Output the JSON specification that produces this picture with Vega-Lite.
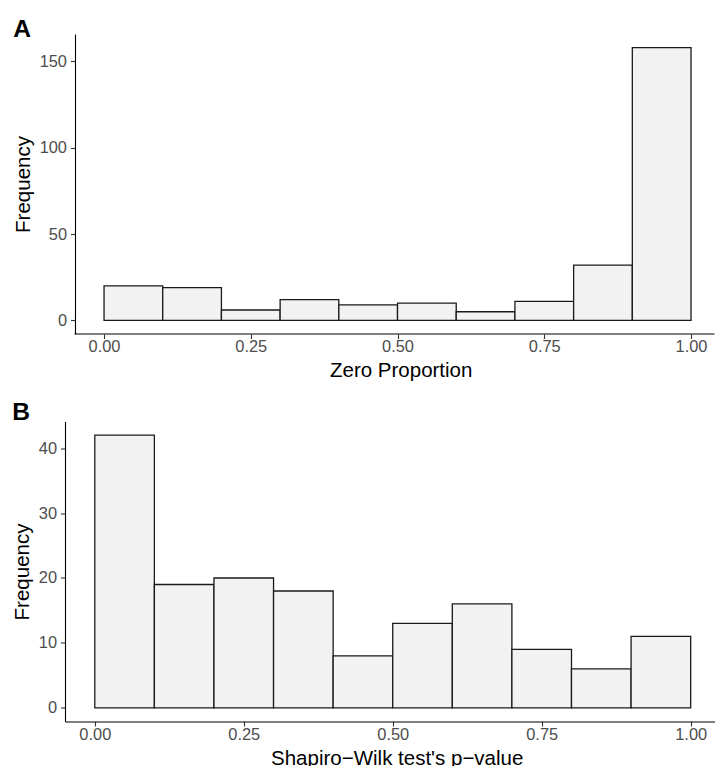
{
  "$schema": "https://vega.github.io/schema/vega-lite/v6.json",
  "background": "white",
  "padding": {"left": 12, "top": 17, "right": 0, "bottom": 0},
  "columns": 1,
  "spacing": 17.5,
  "concat": [
    {
      "width": 649.5,
      "height": 300,
      "title": {"text": "A", "anchor": "start", "frame": "bounds", "fontSize": 24.6, "fontWeight": "bold", "font": "Liberation Sans", "color": "#000000", "baseline": "alphabetic", "offset": -28},
      "layer": [
        {
          "data": {"values": [
            {"start": 0.0, "end": 0.1, "count": 20},
            {"start": 0.1, "end": 0.2, "count": 19},
            {"start": 0.2, "end": 0.3, "count": 6},
            {"start": 0.3, "end": 0.4, "count": 12},
            {"start": 0.4, "end": 0.5, "count": 9},
            {"start": 0.5, "end": 0.6, "count": 10},
            {"start": 0.6, "end": 0.7, "count": 5},
            {"start": 0.7, "end": 0.8, "count": 11},
            {"start": 0.8, "end": 0.9, "count": 32},
            {"start": 0.9, "end": 1.0, "count": 158}
          ]},
          "mark": {"type": "rect", "fill": "#F2F2F2", "stroke": "#1a1a1a", "strokeWidth": 1.3},
          "encoding": {
            "x": {"field": "start", "type": "quantitative", "scale": {"domain": [-0.0665, 1.04], "nice": false, "zero": false},
                  "axis": {"title": "Zero Proportion", "values": [0, 0.25, 0.5, 0.75, 1], "format": ".2f", "titleX": 335.7, "domain": false}},
            "x2": {"field": "end"},
            "y": {"field": "count", "type": "quantitative", "scale": {"domain": [-7.9, 165.9], "nice": false, "zero": false},
                  "axis": {"title": "Frequency", "values": [0, 50, 100, 150], "offset": -10}},
            "y2": {"datum": 0}
          }
        },
        {
          "data": {"values": [{"lo": -0.05, "hi": 1.04, "base": -7.9}]},
          "mark": {"type": "rule", "color": "#000000", "strokeWidth": 1.1},
          "encoding": {
            "x": {"field": "lo", "type": "quantitative"},
            "x2": {"field": "hi"},
            "y": {"field": "base", "type": "quantitative"}
          }
        }
      ]
    },
    {
      "width": 649.5,
      "height": 300,
      "title": {"text": "B", "anchor": "start", "frame": "bounds", "fontSize": 24.6, "fontWeight": "bold", "font": "Liberation Sans", "color": "#000000", "baseline": "alphabetic", "offset": -23},
      "data": {"values": [
        {"start": 0.0, "end": 0.1, "count": 42},
        {"start": 0.1, "end": 0.2, "count": 19},
        {"start": 0.2, "end": 0.3, "count": 20},
        {"start": 0.3, "end": 0.4, "count": 18},
        {"start": 0.4, "end": 0.5, "count": 8},
        {"start": 0.5, "end": 0.6, "count": 13},
        {"start": 0.6, "end": 0.7, "count": 16},
        {"start": 0.7, "end": 0.8, "count": 9},
        {"start": 0.8, "end": 0.9, "count": 6},
        {"start": 0.9, "end": 1.0, "count": 11}
      ]},
      "mark": {"type": "rect", "fill": "#F2F2F2", "stroke": "#1a1a1a", "strokeWidth": 1.3},
      "encoding": {
        "x": {"field": "start", "type": "quantitative", "scale": {"domain": [-0.05, 1.04], "nice": false, "zero": false},
              "axis": {"title": "Shapiro−Wilk test's p−value", "values": [0, 0.25, 0.5, 0.75, 1], "format": ".2f", "titleX": 331.7}},
        "x2": {"field": "end"},
        "y": {"field": "count", "type": "quantitative", "scale": {"domain": [-2.1, 44.1], "nice": false, "zero": false},
              "axis": {"title": "Frequency", "values": [0, 10, 20, 30, 40]}},
        "y2": {"datum": 0}
      }
    }
  ],
  "config": {
    "view": {"stroke": null},
    "axis": {
      "domainColor": "#000000",
      "domainWidth": 1.1,
      "tickColor": "#333333",
      "tickWidth": 1.1,
      "tickSize": 4.5,
      "labelColor": "#4D4D4D",
      "labelFont": "Liberation Sans",
      "labelFontSize": 16.4,
      "labelPadding": 4,
      "labelFlush": false,
      "labelOverlap": false,
      "titleFont": "Liberation Sans",
      "titleFontSize": 20.5,
      "titleFontWeight": "normal",
      "titleColor": "#000000",
      "grid": false
    },
    "axisX": {"titlePadding": 6, "labelPadding": 0},
    "axisY": {"titlePadding": 6}
  }
}
